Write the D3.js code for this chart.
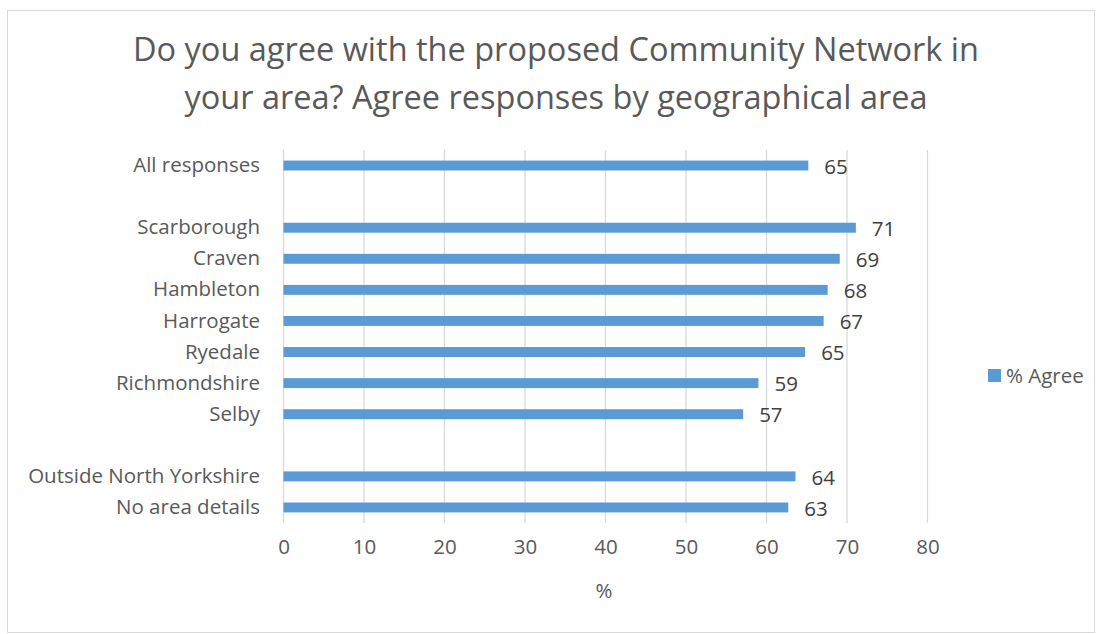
<!DOCTYPE html>
<html><head><meta charset="utf-8">
<script src="https://cdn.jsdelivr.net/npm/d3@7"></script>
<style>body{margin:0;background:#fff}svg{display:block}text{font-family:"Open Sans",sans-serif}</style>
</head><body><svg id="c" width="1097" height="634"></svg>
<script>
const categories = ["All responses","_gap1","Scarborough","Craven","Hambleton","Harrogate","Ryedale","Richmondshire","Selby","_gap2","Outside North Yorkshire","No area details"];
const values = [65.2, null, 71.1, 69.1, 67.6, 67.1, 64.8, 59.0, 57.1, null, 63.6, 62.7];
const labels = ["65", "", "71", "69", "68", "67", "65", "59", "57", "", "64", "63"];
const xTicks = [0,10,20,30,40,50,60,70,80];
const seriesName = "% Agree";
const titleLines = ["Do you agree with the proposed Community Network in","your area? Agree responses by geographical area"];

const FONT = '"Open Sans",sans-serif';
const FS = 20.5;
const svg = d3.select("#c");
svg.append("rect").attr("x",7.5).attr("y",10.5).attr("width",1087).attr("height",622).attr("fill","#fff").attr("stroke","#d9d9d9");

const x = d3.scaleLinear().domain([0,80]).range([283.5,927.5]);
const y = d3.scaleBand().domain(categories).range([150,523]).paddingInner(0.68).paddingOuter(0.34);

// gridlines
svg.append("g").selectAll("line").data(xTicks).join("line")
  .attr("x1",d=>x(d)).attr("x2",d=>x(d)).attr("y1",150).attr("y2",523)
  .attr("stroke","#d9d9d9").attr("stroke-width",1.3);

// axis
const ax = svg.append("g").attr("transform","translate(0,523)")
  .call(d3.axisBottom(x).tickValues(xTicks).tickSize(0).tickPadding(16));
ax.select(".domain").remove();
ax.selectAll("text").attr("fill","#595959").attr("font-size",FS).attr("font-family",FONT);

// category labels
const ay = svg.append("g").attr("transform","translate(260,0)")
  .call(d3.axisLeft(y).tickSize(0).tickPadding(0).tickFormat(d=>d.startsWith("_")?"":d));
ay.select(".domain").remove();
ay.selectAll("text").attr("fill","#595959").attr("font-size",FS).attr("font-family",FONT);

const rows = categories.map((c,i)=>({c,v:values[i],l:labels[i]})).filter(d=>d.v!=null);
svg.append("g").selectAll("rect").data(rows).join("rect")
  .attr("x",x(0)).attr("y",d=>y(d.c)).attr("height",y.bandwidth())
  .attr("width",d=>x(d.v)-x(0)).attr("fill","#5b9bd5");
svg.append("g").selectAll("text").data(rows).join("text")
  .attr("x",d=>x(d.v)+16).attr("y",d=>y(d.c)+y.bandwidth()/2+1).attr("dy","0.35em")
  .attr("fill","#404040").attr("font-size",FS).text(d=>d.l);

// title
svg.append("g").selectAll("text").data(titleLines).join("text")
  .attr("x",556).attr("y",(d,i)=>50+i*48).attr("dy","0.35em").attr("text-anchor","middle")
  .attr("fill","#595959").attr("font-size",32.5).text(d=>d);

// axis title
svg.append("text").attr("x",604).attr("y",591).attr("dy","0.35em").attr("text-anchor","middle")
  .attr("fill","#595959").attr("font-size",FS).text("%");

// legend
svg.append("rect").attr("x",988).attr("y",369).attr("width",13).attr("height",13).attr("fill","#5b9bd5");
svg.append("text").attr("x",1006).attr("y",375.5).attr("dy","0.35em").attr("fill","#595959").attr("font-size",FS).text(seriesName);
</script></body></html>
